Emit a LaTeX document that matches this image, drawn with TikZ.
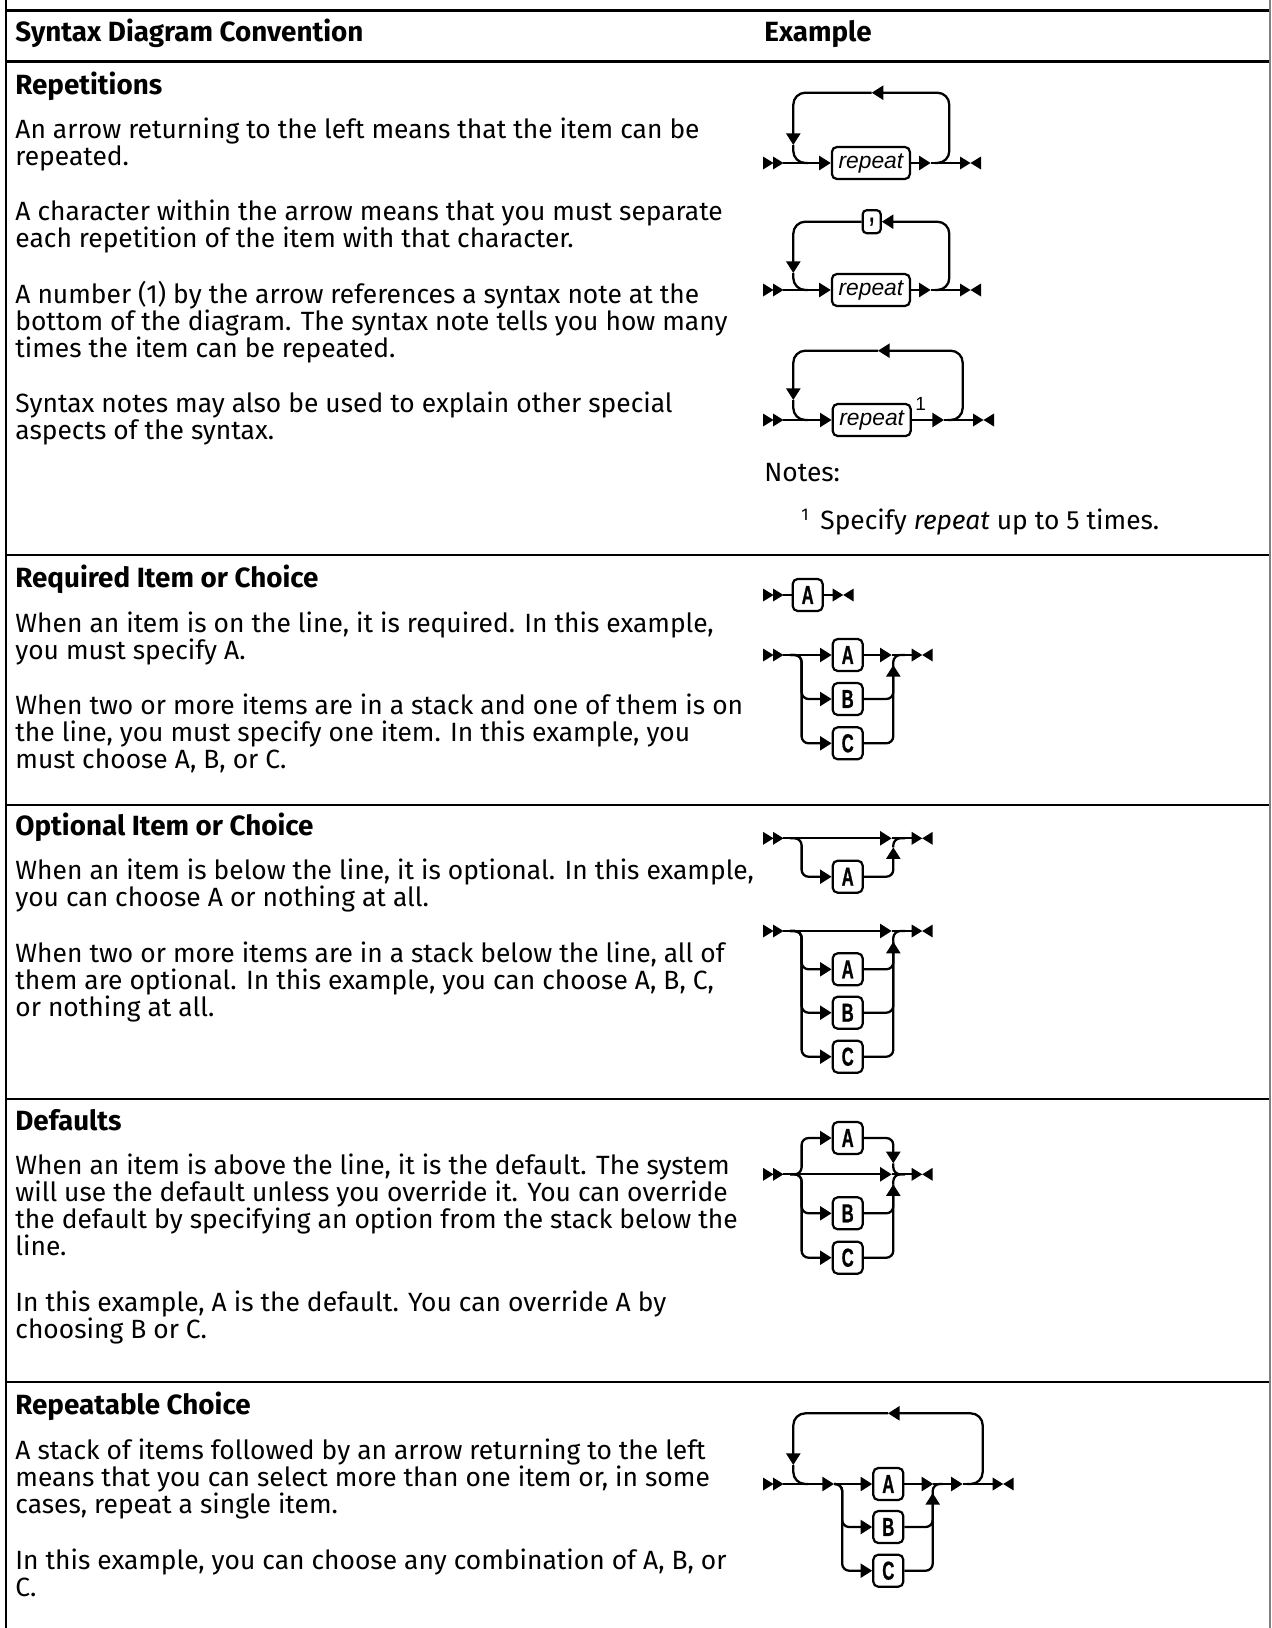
\documentclass[tikz,border=0pt]{standalone}
\usepackage{fontspec}
\setmainfont{Fira Sans}
\newfontfamily\railfont{Liberation Sans}
\newfontfamily\boxfont[FakeStretch=0.64, FakeBold=0.8]{Liberation Sans}
\usetikzlibrary{arrows.meta,positioning,calc}

\newcommand\bodysize{\fontsize{13.2pt}{16pt}\selectfont}
\newcommand\headsize{\fontsize{13.9pt}{16pt}\selectfont}
% one node per printed line, 27.2px apart
\newcommand\para[3]{%
  \foreach \txtline [count=\i from 0] in {#3}
    \node[body] (#1\i) at (15,{#2+27.2*\i}) {\txtline};}

\tikzset{
  tablerule/.style={line width=1.35pt},
  body/.style={anchor=base west, inner sep=0pt, font=\bodysize},
  headtext/.style={body, font=\headsize\bfseries},
  rail/.style={line width=1.15pt},
  railtip/.style={-{Triangle[length=5.8pt,width=7pt]}},
  railbend/.style={rounded corners=3.5pt},
  loopback/.style={rounded corners=6pt},
  item/.style={draw, line width=1.1pt, rounded corners=2.5pt, minimum width=15pt, minimum height=16pt, inner sep=0pt, font=\boxfont\bfseries\fontsize{13pt}{14pt}\selectfont},
  word/.style={item, minimum width=39pt, font=\railfont\itshape\fontsize{11.4pt}{13pt}\selectfont},
  pics/dbl/.style={code={\fill (0,-6.5)--(10.5,0)--(0,6.5)--cycle (10,-6.5)--(20.5,0)--(10,6.5)--cycle;}},
  pics/fin/.style={code={\fill (0,-6.5)--(10.5,0)--(0,6.5)--cycle (21,-6.5)--(10.5,0)--(21,6.5)--cycle;}},
}

\begin{document}
\begin{tikzpicture}[x=0.5pt, y=-0.5pt]
    \useasboundingbox (0,0) rectangle (1271,1628);
    % table rules
    \draw[tablerule] (6,0) -- (6,1628);
    \foreach \yy in {10.7,61.5,555,805,1099,1382}
        \draw[tablerule] (6,\yy) -- (1271,\yy);
    \draw[gray, line width=0.8pt] (1270.2,0) -- (1270.2,1628);

    \node[headtext] (colconv) at (15,41) {Syntax Diagram Convention};
    \node[headtext] (colex) at (764,41) {Example};

    % repetitions
    \node[headtext] (hrep) at (15,94) {Repetitions};
    \para{repa}{138}{{An arrow returning to the left means that the item can be},{repeated.}}
    \para{repb}{220}{{A character within the arrow means that you must separate},{each repetition of the item with that character.}}
    \para{repc}{303}{{A number (1) by the arrow references a syntax note at the},{bottom of the diagram. The syntax note tells you how many},{times the item can be repeated.}}
    \para{repd}{412}{{Syntax notes may also be used to explain other special},{aspects of the syntax.}}

    \begin{scope}[shift={(0,163)}]
        \pic at (763,0) {dbl};
        \coordinate (aIn) at (783,0);
        \node[word] (aBox) at (870.9,0) {repeat};
        \coordinate (aTip) at (930.7,0);
        \coordinate (aOut) at (960,0);
        \coordinate (aR) at (935,0);
        \coordinate (aTop) at (949.3,-70.3);
        \coordinate (aMark) at (871.7,-70.3);
        \coordinate (aDown) at (793.3,-18);
        \coordinate (aJoin) at (808,0);
        \draw[rail,railtip] (aIn) -- (aBox.west);
        \draw[rail,railtip] (aBox.east) -- (aTip);
        \draw[rail] (aTip) -- (aOut);
        \pic at (aOut) {fin};
        \draw[rail,loopback,railtip] (aR) -| (aTop) -- (aMark);
        \draw[rail,loopback,railtip] (aMark) -| (aDown);
        \draw[rail,loopback] (aDown) |- (aJoin);
    \end{scope}

    \begin{scope}[shift={(0,290)}]
        \pic at (763,0) {dbl};
        \coordinate (bIn) at (783,0);
        \node[word] (bBox) at (870.9,0) {repeat};
        \node[item, minimum width=9pt, minimum height=11.5pt, rounded corners=2pt] (bComma) at (871.7,-68.3) {,};
        \coordinate (bTip) at (930.7,0);
        \coordinate (bOut) at (960,0);
        \coordinate (bR) at (935,0);
        \coordinate (bTop) at (949.3,-68.3);
        \coordinate (bDown) at (793.3,-17);
        \coordinate (bJoin) at (808,0);
        \draw[rail,railtip] (bIn) -- (bBox.west);
        \draw[rail,railtip] (bBox.east) -- (bTip);
        \draw[rail] (bTip) -- (bOut);
        \pic at (bOut) {fin};
        \draw[rail,loopback,railtip] (bR) -| (bTop) -- (bComma.east);
        \draw[rail,loopback,railtip] (bComma.west) -| (bDown);
        \draw[rail,loopback] (bDown) |- (bJoin);
    \end{scope}

    \begin{scope}[shift={(0,420)}]
        \pic at (763,0) {dbl};
        \coordinate (cIn) at (783,0);
        \node[word] (cBox) at (871.7,0) {repeat};
        \node[anchor=base west, inner sep=0pt, font=\railfont\fontsize{9.5pt}{11pt}\selectfont] (cNote) at (915,-9.3) {1};
        \coordinate (cTip) at (944,0);
        \coordinate (cOut) at (973,0);
        \coordinate (cR) at (948,0);
        \coordinate (cTop) at (962.7,-69.3);
        \coordinate (cMark) at (878,-69.3);
        \coordinate (cDown) at (793.3,-20);
        \coordinate (cJoin) at (808,0);
        \draw[rail,railtip] (cIn) -- (cBox.west);
        \draw[rail,railtip] (cBox.east) -- (cTip);
        \draw[rail] (cTip) -- (cOut);
        \pic at (cOut) {fin};
        \draw[rail,loopback,railtip] (cR) -| (cTop) -- (cMark);
        \draw[rail,loopback,railtip] (cMark) -| (cDown);
        \draw[rail,loopback] (cDown) |- (cJoin);
    \end{scope}

    \node[body] (notes) at (764,481.7) {Notes:};
    \node[anchor=base west, inner sep=0pt, font=\fontsize{8.5pt}{10pt}\selectfont] (fnmark) at (801,520) {1};
    \node[body] (fntext) at (820,529.3) {Specify \textit{repeat} up to 5 times.};

    % required item or choice
    \node[headtext] (hreq) at (15,587) {Required Item or Choice};
    \para{reqa}{632}{{When an item is on the line, it is required. In this example,},{you must specify A.}}
    \para{reqb}{714}{{When two or more items are in a stack and one of them is on},{the line, you must specify one item. In this example, you},{must choose A, B, or C.}}

    \begin{scope}[shift={(0,595)}]
        \pic at (763,0) {dbl};
        \coordinate (dIn) at (783,0);
        \node[item] (dA) at (807.7,0) {A};
        \coordinate (dOut) at (832.7,0);
        \draw[rail] (dIn) -- (dA);
        \draw[rail] (dA) -- (dOut);
        \pic at (dOut) {fin};
    \end{scope}

    \begin{scope}[shift={(0,655)}]
        \pic at (763,0) {dbl};
        \coordinate (eIn) at (783,0);
        \coordinate (eSplit) at (790,0);
        \node[item] (eA) at (847.7,0) {A};
        \node[item] (eB) at (847.7,44) {B};
        \node[item] (eC) at (847.7,88.3) {C};
        \coordinate (eTip) at (891.7,0);
        \coordinate (eUp) at (893.3,10);
        \coordinate (eMerge) at (905,0);
        \coordinate (eOut) at (911.7,0);
        \draw[rail,railtip] (eIn) -- (eA.west);
        \draw[rail,railbend,railtip] (eSplit) -| ([xshift=-15pt]eB.west) -- (eB.west);
        \draw[rail,railbend,railtip] (eSplit) -| ([xshift=-15pt]eC.west) -- (eC.west);
        \draw[rail,railtip] (eA.east) -- (eTip);
        \draw[rail,railbend] (eB.east) -| (eUp);
        \draw[rail,railbend,railtip] (eC.east) -| (eUp);
        \draw[rail,railbend] (eUp) |- (eMerge);
        \draw[rail] (eTip) -- (eOut);
        \pic at (eOut) {fin};
    \end{scope}

    % optional item or choice
    \node[headtext] (hopt) at (15,835) {Optional Item or Choice};
    \para{opta}{879}{{When an item is below the line, it is optional. In this example,},{you can choose A or nothing at all.}}
    \para{optb}{962}{{When two or more items are in a stack below the line, all of},{them are optional. In this example, you can choose A, B, C,},{or nothing at all.}}

    \begin{scope}[shift={(0,838.3)}]
        \pic at (763,0) {dbl};
        \coordinate (fIn) at (783,0);
        \coordinate (fSplit) at (790,0);
        \node[item] (fA) at (847.7,38.4) {A};
        \coordinate (fTip) at (891.7,0);
        \coordinate (fUp) at (893.3,9);
        \coordinate (fMerge) at (905,0);
        \coordinate (fOut) at (911.7,0);
        \draw[rail,railtip] (fIn) -- (fTip);
        \draw[rail,railbend,railtip] (fSplit) -| ([xshift=-15pt]fA.west) -- (fA.west);
        \draw[rail,railbend,railtip] (fA.east) -| (fUp);
        \draw[rail,railbend] (fUp) |- (fMerge);
        \draw[rail] (fTip) -- (fOut);
        \pic at (fOut) {fin};
    \end{scope}

    \begin{scope}[shift={(0,931)}]
        \pic at (763,0) {dbl};
        \coordinate (gIn) at (783,0);
        \coordinate (gSplit) at (790,0);
        \node[item] (gA) at (847.7,38.3) {A};
        \node[item] (gB) at (847.7,81.7) {B};
        \node[item] (gC) at (847.7,125.7) {C};
        \coordinate (gTip) at (891.7,0);
        \coordinate (gUp) at (893.3,10.7);
        \coordinate (gMerge) at (905,0);
        \coordinate (gOut) at (911.7,0);
        \draw[rail,railtip] (gIn) -- (gTip);
        \foreach \nd in {gA,gB,gC}
            \draw[rail,railbend,railtip] (gSplit) -| ([xshift=-15pt]\nd.west) -- (\nd.west);
        \draw[rail,railbend] (gA.east) -| (gUp);
        \draw[rail,railbend] (gB.east) -| (gUp);
        \draw[rail,railbend,railtip] (gC.east) -| (gUp);
        \draw[rail,railbend] (gUp) |- (gMerge);
        \draw[rail] (gTip) -- (gOut);
        \pic at (gOut) {fin};
    \end{scope}

    % defaults
    \node[headtext] (hdef) at (15,1130) {Defaults};
    \para{defa}{1174}{{When an item is above the line, it is the default. The system},{will use the default unless you override it. You can override},{the default by specifying an option from the stack below the},{line.}}
    \para{defb}{1311}{{In this example, A is the default. You can override A by},{choosing B or C.}}

    \begin{scope}[shift={(0,1174.3)}]
        \pic at (763,0) {dbl};
        \coordinate (hIn) at (783,0);
        \coordinate (hSplit) at (790,0);
        \node[item] (hA) at (847.7,-36.3) {A};
        \node[item] (hB) at (847.7,39) {B};
        \node[item] (hC) at (847.7,83.4) {C};
        \coordinate (hTip) at (891.7,0);
        \coordinate (hDn) at (893.3,-11);
        \coordinate (hUp) at (893.3,10);
        \coordinate (hMerge) at (905,0);
        \coordinate (hOut) at (911.7,0);
        \draw[rail,railtip] (hIn) -- (hTip);
        \foreach \nd in {hA,hB,hC}
            \draw[rail,railbend,railtip] (hSplit) -| ([xshift=-15pt]\nd.west) -- (\nd.west);
        \draw[rail,railbend,railtip] (hA.east) -| (hDn);
        \draw[rail,railbend] (hDn) |- (hMerge);
        \draw[rail,railbend] (hB.east) -| (hUp);
        \draw[rail,railbend,railtip] (hC.east) -| (hUp);
        \draw[rail,railbend] (hUp) |- (hMerge);
        \draw[rail] (hTip) -- (hOut);
        \pic at (hOut) {fin};
    \end{scope}

    % repeatable choice
    \node[headtext] (hrc) at (15,1414) {Repeatable Choice};
    \para{rca}{1459}{{A stack of items followed by an arrow returning to the left},{means that you can select more than one item or, in some},{cases, repeat a single item.}}
    \para{rcb}{1569}{{In this example, you can choose any combination of A, B, or},{C.}}

    \begin{scope}[shift={(0,1484)}]
        \pic at (763,0) {dbl};
        \coordinate (iIn) at (783,0);
        \coordinate (iT1) at (834,0);
        \node[item] (iA) at (888.3,0) {A};
        \node[item] (iB) at (888.3,43) {B};
        \node[item] (iC) at (888.3,86.7) {C};
        \coordinate (iT2) at (933.3,0);
        \coordinate (iUp) at (932.7,9);
        \coordinate (iMerge) at (943,0);
        \coordinate (iT3) at (962.7,0);
        \coordinate (iOut) at (992.7,0);
        \coordinate (iR) at (967,0);
        \coordinate (iTop) at (982.7,-70.7);
        \coordinate (iMark) at (888,-70.7);
        \coordinate (iDown) at (793.3,-19);
        \coordinate (iJoin) at (808,0);
        \draw[rail,railtip] (iIn) -- (iT1);
        \draw[rail,railtip] (iT1) -- (iA.west);
        \draw[rail,railbend,railtip] (iT1) -| ([xshift=-15pt]iB.west) -- (iB.west);
        \draw[rail,railbend,railtip] (iT1) -| ([xshift=-15pt]iC.west) -- (iC.west);
        \draw[rail,railtip] (iA.east) -- (iT2);
        \draw[rail,railbend] (iB.east) -| (iUp);
        \draw[rail,railbend,railtip] (iC.east) -| (iUp);
        \draw[rail,railbend] (iUp) |- (iMerge);
        \draw[rail,railtip] (iT2) -- (iT3);
        \draw[rail] (iT3) -- (iOut);
        \pic at (iOut) {fin};
        \draw[rail,loopback,railtip] (iR) -| (iTop) -- (iMark);
        \draw[rail,loopback,railtip] (iMark) -| (iDown);
        \draw[rail,loopback] (iDown) |- (iJoin);
    \end{scope}
\end{tikzpicture}
\end{document}
